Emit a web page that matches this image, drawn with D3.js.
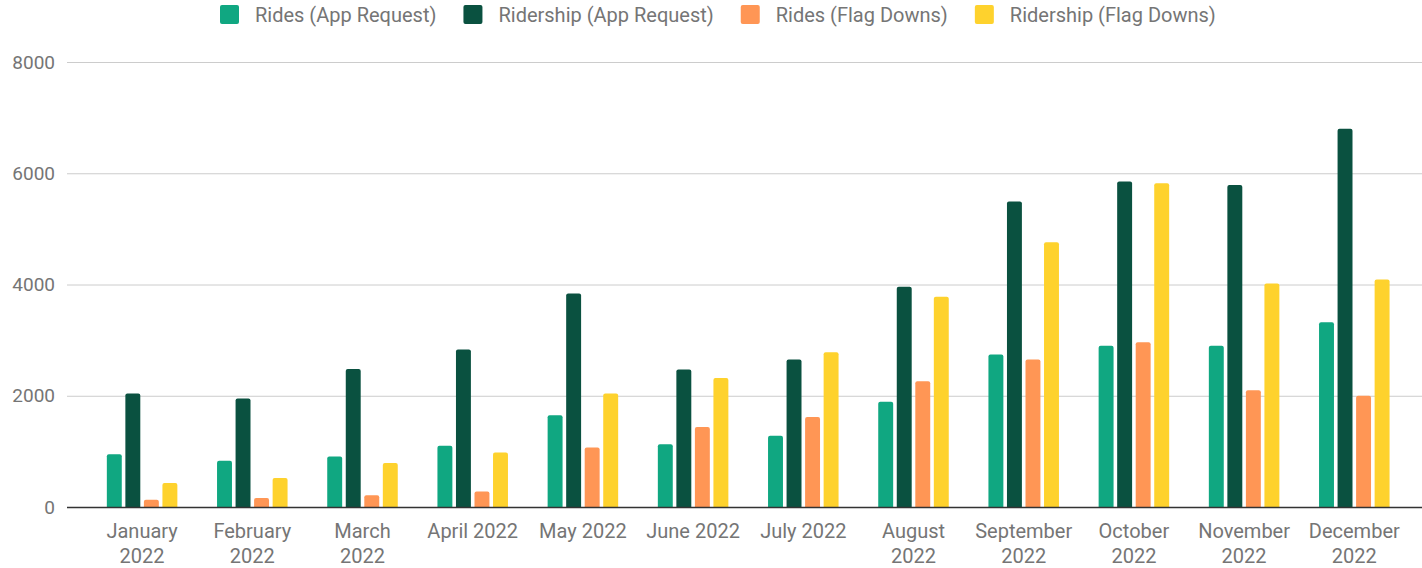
<!DOCTYPE html>
<html>
<head>
<meta charset="utf-8">
<script src="https://cdn.jsdelivr.net/npm/d3@7"></script>
<style>
    body { margin: 0; background: #fff; }
    text { font-family: Roboto, "Open Sans", sans-serif; }
</style>
</head>
<body>
<div id="chart"></div>
<script>
var months = ["January 2022", "February 2022", "March 2022", "April 2022", "May 2022", "June 2022",
    "July 2022", "August 2022", "September 2022", "October 2022", "November 2022", "December 2022"];
var seriesNames = ["Rides (App Request)", "Ridership (App Request)", "Rides (Flag Downs)", "Ridership (Flag Downs)"];
var seriesColors = ["#10a781", "#0a5140", "#ff9655", "#fed22d"];
var ridesApp = [950, 830, 910, 1100, 1650, 1130, 1280, 1890, 2740, 2900, 2900, 3320];
var ridershipApp = [2040, 1950, 2480, 2830, 3840, 2470, 2650, 3960, 5490, 5850, 5790, 6800];
var ridesFlag = [130, 160, 210, 280, 1070, 1440, 1620, 2260, 2650, 2960, 2100, 2000];
var ridershipFlag = [430, 520, 790, 980, 2040, 2320, 2780, 3780, 4760, 5820, 4020, 4090];
var yTicks = [0, 2000, 4000, 6000, 8000];

var width = 1422, height = 568;
var svg = d3.select("#chart").append("svg")
    .attr("width", width)
    .attr("height", height);

var gridLeft = 67, gridRight = 1422;

var x0 = d3.scaleBand()
    .domain(months)
    .range([87, 1409.4])
    .paddingInner(0.36)
    .paddingOuter(0.18);

var x1 = d3.scaleBand()
    .domain(d3.range(4))
    .range([0, x0.bandwidth()])
    .paddingInner(0.194);

var y = d3.scaleLinear()
    .domain([0, 8000])
    .range([507, 62]);

var data = months.map(function(m, i){
    return {month: m, values: [ridesApp[i], ridershipApp[i], ridesFlag[i], ridershipFlag[i]]};
});

// gridlines
svg.append("g").selectAll("line")
    .data(yTicks.filter(function(d){ return d > 0; }))
    .enter().append("line")
    .attr("x1", gridLeft)
    .attr("x2", gridRight)
    .attr("y1", function(d){ return y(d) + 0.5; })
    .attr("y2", function(d){ return y(d) + 0.5; })
    .attr("stroke", "#cccccc")
    .attr("stroke-width", 1);

// y labels
svg.append("g").selectAll("text")
    .data(yTicks)
    .enter().append("text")
    .attr("x", 55)
    .attr("y", function(d){ return y(d); })
    .attr("dy", "0.35em")
    .attr("text-anchor", "end")
    .attr("font-size", 19)
    .attr("fill", "#757575")
    .text(function(d){ return d; });

// bars, rounded top corners only
function barPath(bx, by, bw, bh){
    var r = Math.min(2, bh);
    return "M" + bx + "," + (by + bh) +
        "V" + (by + r) +
        "Q" + bx + "," + by + " " + (bx + r) + "," + by +
        "H" + (bx + bw - r) +
        "Q" + (bx + bw) + "," + by + " " + (bx + bw) + "," + (by + r) +
        "V" + (by + bh) + "Z";
}

var groups = svg.append("g").selectAll("g")
    .data(data)
    .enter().append("g")
    .attr("transform", function(d){ return "translate(" + x0(d.month) + ",0)"; });

groups.selectAll("path")
    .data(function(d){ return d.values; })
    .enter().append("path")
    .attr("d", function(v, i){
        return barPath(x1(i), y(v), x1.bandwidth(), y(0) - y(v));
    })
    .attr("fill", function(v, i){ return seriesColors[i]; });

// baseline
svg.append("line")
    .attr("x1", gridLeft)
    .attr("x2", gridRight)
    .attr("y1", y(0) + 0.5)
    .attr("y2", y(0) + 0.5)
    .attr("stroke", "#333333")
    .attr("stroke-width", 1.3);

// x labels, wrap long ones into two lines
var xLabels = svg.append("g").selectAll("text")
    .data(months)
    .enter().append("text")
    .attr("x", function(d){ return x0(d) + x0.bandwidth() / 2; })
    .attr("y", 538)
    .attr("text-anchor", "middle")
    .attr("font-size", 20)
    .attr("fill", "#757575")
    .text(function(d){ return d; });

xLabels.each(function(d){
    var t = d3.select(this);
    if (this.getComputedTextLength() > 100) {
        var parts = d.split(" ");
        var cx = t.attr("x");
        t.text(null);
        t.append("tspan").attr("x", cx).attr("y", 538).text(parts[0]);
        t.append("tspan").attr("x", cx).attr("y", 563).text(parts[1]);
    }
});

// legend
var legend = svg.append("g");
var lx = 220;
seriesNames.forEach(function(name, i){
    legend.append("rect")
        .attr("x", lx)
        .attr("y", 5)
        .attr("width", 19)
        .attr("height", 19)
        .attr("rx", 2)
        .attr("fill", seriesColors[i]);
    var t = legend.append("text")
        .attr("x", lx + 35)
        .attr("y", 15)
        .attr("dy", "0.35em")
        .attr("font-size", 20)
        .attr("fill", "#757575")
        .text(name);
    lx = lx + 35 + t.node().getComputedTextLength() + 27;
});
</script>
</body>
</html>
